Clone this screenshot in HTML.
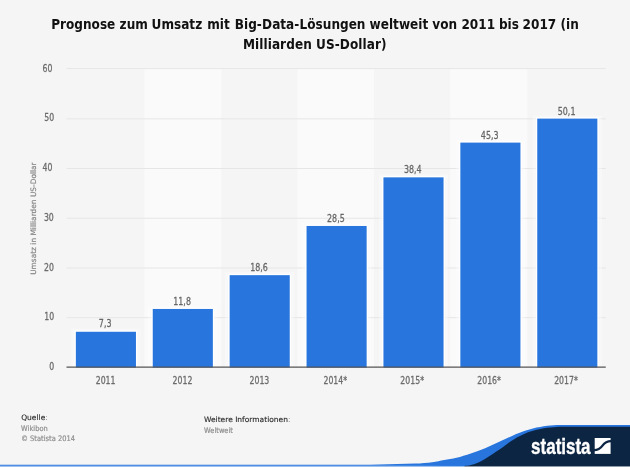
<!DOCTYPE html>
<html lang="de">
<head>
<meta charset="utf-8">
<title>Prognose zum Umsatz mit Big-Data-Lösungen weltweit von 2011 bis 2017</title>
<style>
html,body{margin:0;padding:0;background:#f5f5f5;}
body{width:630px;height:467px;overflow:hidden;position:relative;font-family:"DejaVu Sans Condensed","DejaVu Sans","Liberation Sans",sans-serif;}
svg{position:absolute;left:0;top:0;display:block;}
svg text{font-family:"DejaVu Sans Condensed","DejaVu Sans","Liberation Sans",sans-serif;}
.title text{font-weight:bold;font-size:13.45px;fill:#111;}
.ax text{font-size:10.3px;fill:#6c6c6c;stroke:#6c6c6c;stroke-width:0.28px;}
.val text{font-size:10.3px;fill:#666;stroke:#666;stroke-width:0.25px;}
text.ytitle{font-family:"DejaVu Sans","Liberation Sans",sans-serif;font-size:7.5px;fill:#808080;stroke:#808080;stroke-width:0.15px;}
text.fh{font-family:"DejaVu Sans","Liberation Sans",sans-serif;font-size:7.5px;fill:#2a2a2a;stroke:#2a2a2a;stroke-width:0.12px;}
text.fh .col{fill:#888;stroke:none;}
text.ft{font-size:7.6px;fill:#909090;stroke:#909090;stroke-width:0.2px;}
text.logo{font-family:"Liberation Sans","DejaVu Sans",sans-serif;font-weight:bold;font-size:21.5px;fill:#fff;stroke:#fff;stroke-width:0.35px;}
</style>
</head>
<body>
<svg width="630" height="467" viewBox="0 0 630 467">
  <rect x="0" y="0" width="630" height="467" fill="#f5f5f5"/>
  <g fill="#fafafa">
    <rect x="144.3" y="68.6" width="77.1" height="299"/>
    <rect x="297.4" y="68.6" width="76.6" height="299"/>
    <rect x="450.2" y="68.6" width="77.2" height="299"/>
  </g>
  <g stroke="#e6e6e6" stroke-width="1">
    <line x1="66.5" x2="605.75" y1="68.6" y2="68.6"/>
    <line x1="66.5" x2="605.75" y1="118.82" y2="118.82"/>
    <line x1="66.5" x2="605.75" y1="168.54" y2="168.54"/>
    <line x1="66.5" x2="605.75" y1="218.26" y2="218.26"/>
    <line x1="66.5" x2="605.75" y1="267.98" y2="267.98"/>
    <line x1="66.5" x2="605.75" y1="317.7" y2="317.7"/>
  </g>
  <g fill="#ffffff" opacity="0.35">
    <rect x="71.35" y="328.77" width="69.1" height="38.83"/>
    <rect x="148.25" y="305.95" width="69.1" height="61.65"/>
    <rect x="225.15" y="272.16" width="69.1" height="95.44"/>
    <rect x="302.05" y="222.96" width="69.1" height="144.65"/>
    <rect x="378.95" y="174.35" width="69.1" height="193.25"/>
    <rect x="455.85" y="139.61" width="69.1" height="227.99"/>
    <rect x="532.75" y="115.6" width="69.1" height="252"/>
  </g>
  <g fill="#ffffff">
    <rect x="74.55" y="330.47" width="62.7" height="37.13"/>
    <rect x="151.45" y="307.65" width="62.7" height="59.95"/>
    <rect x="228.35" y="273.86" width="62.7" height="93.74"/>
    <rect x="305.25" y="224.66" width="62.7" height="142.95"/>
    <rect x="382.15" y="176.05" width="62.7" height="191.55"/>
    <rect x="459.05" y="141.31" width="62.7" height="226.29"/>
    <rect x="535.95" y="117.3" width="62.7" height="250.3"/>
  </g>
  <g fill="#2875dd">
    <rect x="75.85" y="331.77" width="60.1" height="35.83"/>
    <rect x="152.75" y="308.95" width="60.1" height="58.65"/>
    <rect x="229.65" y="275.16" width="60.1" height="92.44"/>
    <rect x="306.55" y="225.96" width="60.1" height="141.65"/>
    <rect x="383.45" y="177.35" width="60.1" height="190.25"/>
    <rect x="460.35" y="142.61" width="60.1" height="224.99"/>
    <rect x="537.25" y="118.6" width="60.1" height="249"/>
  </g>
  <line x1="66.5" x2="605.75" y1="367.1" y2="367.1" stroke="#555" stroke-width="1.1"/>
  <g class="title" text-anchor="middle">
    <text text-anchor="start" y="28.5" xml:space="preserve"><tspan x="51.2">Prognose </tspan><tspan x="119.6">zum </tspan><tspan x="151.6">Umsatz </tspan><tspan x="207.2">mit </tspan><tspan x="234.8">Big-</tspan><tspan x="262.1">Data-</tspan><tspan x="299.6">Lösungen </tspan><tspan x="369.6">weltweit </tspan><tspan x="432.3">von </tspan><tspan x="461.4">2011 </tspan><tspan x="498.9">bis </tspan><tspan x="522.6">2017 </tspan><tspan x="560.5">(in</tspan></text>
    <text x="314.8" y="49" letter-spacing="0.07">Milliarden US-Dollar)</text>
  </g>
  <g class="ax" text-anchor="end">
    <text transform="translate(54.1,369.8) scale(0.84,1)">0</text>
    <text transform="translate(54.1,320) scale(0.84,1)">10</text>
    <text transform="translate(54,270.5) scale(0.84,1)">20</text>
    <text transform="translate(53.8,220.7) scale(0.84,1)">30</text>
    <text transform="translate(52.4,170.9) scale(0.84,1)">40</text>
    <text transform="translate(54.1,121.4) scale(0.84,1)">50</text>
    <text transform="translate(52.5,71.9) scale(0.84,1)">60</text>
  </g>
  <text text-anchor="middle" class="ytitle" transform="translate(35.7,218.6) rotate(-90) scale(0.99,1)">Umsatz in Milliarden US-Dollar</text>
  <g class="ax" text-anchor="middle">
    <text transform="translate(105.6,383.7) scale(0.84,1)">2011</text>
    <text transform="translate(182.5,383.7) scale(0.84,1)">2012</text>
    <text transform="translate(259.4,383.7) scale(0.84,1)">2013</text>
    <text transform="translate(335.3,383.7) scale(0.84,1)">2014*</text>
    <text transform="translate(412.2,383.7) scale(0.84,1)">2015*</text>
    <text transform="translate(489.1,383.7) scale(0.84,1)">2016*</text>
    <text transform="translate(566,383.7) scale(0.84,1)">2017*</text>
  </g>
  <g class="val" text-anchor="middle">
    <text transform="translate(105.2,327.42) scale(0.86,1)">7,3</text>
    <text transform="translate(182.1,305.05) scale(0.86,1)">11,8</text>
    <text transform="translate(259,271.26) scale(0.86,1)">18,6</text>
    <text transform="translate(335.9,222.06) scale(0.86,1)">28,5</text>
    <text transform="translate(412.8,172.85) scale(0.86,1)">38,4</text>
    <text transform="translate(489.7,138.56) scale(0.86,1)">45,3</text>
    <text transform="translate(566.6,114.7) scale(0.86,1)">50,1</text>
  </g>
  <text class="fh" transform="translate(21.2,420.4)">Quelle<tspan class="col">:</tspan></text>
  <text class="ft" transform="translate(21.1,430.8) scale(0.98,1)">Wikibon</text>
  <text class="ft" transform="translate(21.3,440.6) scale(0.98,1)">© Statista 2014</text>
  <text class="fh" transform="translate(204,422) scale(1,1)">Weitere Informationen<tspan class="col">:</tspan></text>
  <text class="ft" transform="translate(204.1,432.9) scale(0.98,1)">Weltweit</text>
  <path d="M0,464.8 L340,464.8 L340,464.8 C343.3,464.8 353.5,464.8 360,464.7 C366.5,464.6 372.9,464.5 379.1,464.4 C385.3,464.3 391.2,464 397.2,463.9 C403.2,463.8 409.4,463.9 415.2,463.6 C421,463.3 427.4,462.8 432.2,462.2 C437,461.6 440.1,460.8 444.2,460 C448.2,459.2 452.1,458.8 456.5,457.7 C460.9,456.6 466,455 470.8,453.4 C475.6,451.8 480.3,450.2 485.1,448.3 C489.8,446.3 494.6,444 499.3,441.8 C504.1,439.6 509.8,436.9 513.6,435.2 C517.4,433.6 519.6,432.8 522.2,431.8 C524.8,430.9 526.9,430.2 529.3,429.5 C531.7,428.8 534.1,428.2 536.5,427.6 C538.9,427.1 541.3,426.6 543.6,426.2 C545.9,425.8 548.2,425.6 550.4,425.4 C552.6,425.2 554.7,425.1 556.9,425 C559,424.9 560.8,424.9 563,424.9 C565.2,424.9 568.8,424.9 570,424.9 L630,424.9 L630,467 L0,467 Z" fill="#2875dd"/>
  <path d="M464.4,466 C465.5,465.8 468.7,465.6 471,465 C473.3,464.4 476,463.5 478.4,462.5 C480.8,461.5 483,460.2 485.3,458.8 C487.6,457.4 490,455.8 492.4,454.2 C494.8,452.7 497.1,451.2 499.5,449.6 C501.9,447.9 504.3,445.9 506.7,444.2 C509.1,442.5 511.4,440.8 513.8,439.4 C516.2,438 518.4,436.9 521,435.6 C523.6,434.4 526.9,432.8 529.5,431.8 C532.1,430.9 534.3,430.3 536.7,429.7 C539.1,429.1 541.5,428.7 543.8,428.3 C546.1,427.9 548.3,427.6 550.5,427.4 C552.7,427.2 554.9,427 556.9,426.9 C559,426.8 560.8,426.7 563,426.7 C565.2,426.7 568.8,426.7 570,426.7 L630,426.7 L630,467 L464.4,467 Z" fill="#0c2543"/>
  <text class="logo" transform="translate(531.1,453.5) scale(0.79,1)">statista</text>
  <g>
    <rect x="594.7" y="438" width="15.9" height="15.9" fill="#fff"/>
    <path d="M594,450.2 C604.5,450.2 600.5,441.2 611,441.2" stroke="#0c2543" stroke-width="2.3" fill="none"/>
  </g>
  <linearGradient id="fade" gradientUnits="userSpaceOnUse" x1="380" y1="0" x2="465" y2="0"><stop offset="0" stop-color="#fff" stop-opacity="0.18"/><stop offset="1" stop-color="#fff" stop-opacity="0"/></linearGradient>
  <rect x="0" y="465" width="465" height="1" fill="url(#fade)"/>
  <rect x="0" y="466" width="630" height="1" fill="#fff" opacity="0.55"/>
</svg>
</body>
</html>
